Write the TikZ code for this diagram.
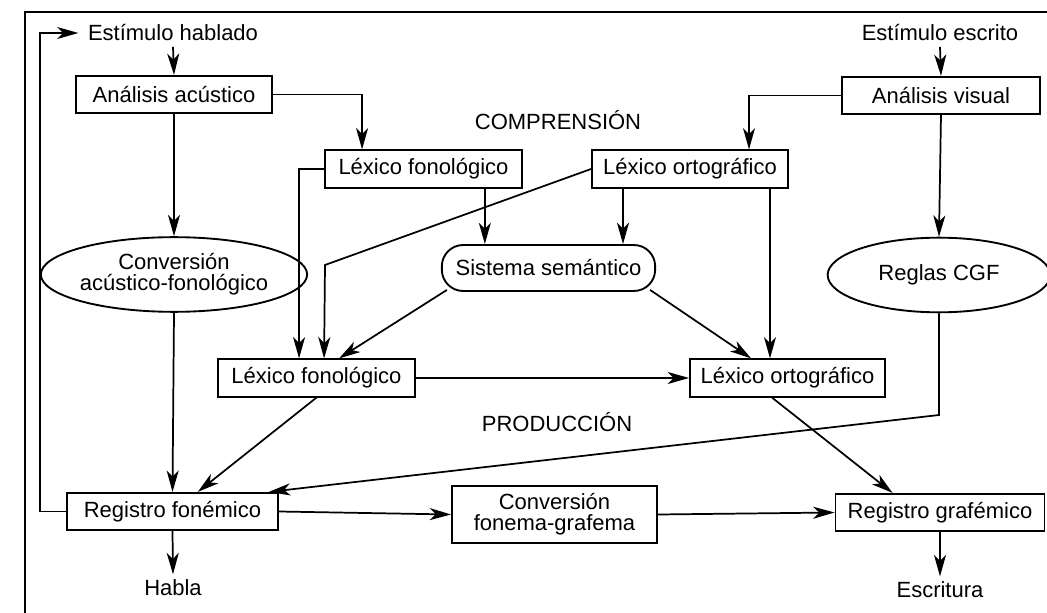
\documentclass[tikz,border=0pt]{standalone}
\usepackage{fontspec}
\setmainfont{Liberation Sans}
\usetikzlibrary{arrows.meta,calc,shapes.geometric}
\tikzset{
  lbl/.style={font=\fontsize{16.5}{19}\selectfont, inner sep=4pt},
  box/.style={lbl, draw, line width=1.4pt, minimum height=28pt, inner xsep=0pt, align=center},
  ell/.style={lbl, draw, ellipse, line width=1.4pt, minimum width=167pt, minimum height=56pt, inner sep=0pt, align=center},
  semb/.style={lbl, draw, rounded corners=16pt, line width=1.4pt, minimum width=160pt, minimum height=34.5pt},
  arr/.style={line width=1.3pt, -{Stealth[length=16pt,width=9pt,inset=4.5pt]}},
}
\begin{document}
\begin{tikzpicture}[x=0.75pt,y=-0.75pt]
\useasboundingbox (0,0) rectangle (1047,613);
% frame
\draw[line width=1.8pt] (25,613) -- (25,12) -- (1047,12);

% nodes
\node[lbl] (eh) at (173,33) {Estímulo hablado};
\node[lbl] (ee) at (940,33) {Estímulo escrito};
\node[box, minimum width=147pt] (aa) at (174,94.5) {Análisis acústico};
\node[box, minimum width=148.5pt] (av) at (941,95.5) {Análisis visual};
\node[lbl] (comp) at (558,120) {COMPRENSIÓN};
\node[box, minimum width=147.75pt] (lf1) at (423.5,169) {Léxico fonológico};
\node[box, minimum width=147pt] (lo1) at (690,169) {Léxico ortográfico};
\node[ell] (caf) at (174,274.5) {Conversión\\[-3pt]acústico-fonológico};
\node[ell] (cgf) at (939,275) {Reglas CGF};
\node[semb] (ss) at (548.5,268) {Sistema semántico};
\node[box, minimum width=147.75pt] (lf2) at (316.5,378) {Léxico fonológico};
\node[box, minimum width=146.25pt] (lo2) at (787.5,378) {Léxico ortográfico};
\node[lbl] (prod) at (557,422) {PRODUCCIÓN};
\node[box, minimum width=158.25pt] (rf) at (172.5,511.5) {Registro fonémico};
\node[box, minimum width=153.75pt, minimum height=43pt] (cfg) at (554.5,514.5) {Conversión\\[-3pt]fonema-grafema};
\node[box, minimum width=156.75pt] (rg) at (940,512.5) {Registro grafémico};
\node[lbl] (habla) at (173,588) {Habla};
\node[lbl] (escr) at (940,590) {Escritura};

\coordinate (lp) at (40,33);
\coordinate (bend) at (325,265);
\coordinate (cgfb) at (939,415);

% connectors
\draw[arr] (rf.west) -| (lp) -- ([xshift=-3pt]eh.west);
\draw[arr] (eh.south) -- (aa.north);
\draw[arr] (aa.east) -| ([xshift=28.5pt]lf1.north west);
\draw[arr] (aa.south) -- (caf.north);
\draw[arr] (caf.south) -- (rf.north);
\draw[arr] (rf.south) -- (habla.north);
\draw[arr] (ee.south) -- (av.north);
\draw[arr] (av.west) -| ([xshift=44.25pt]lo1.north);
\draw[arr] (av.south) -- (cgf.north);
\draw[arr] (cgf.south) -- (cgfb) -- ([xshift=-7.5pt]rf.north east);
\draw[arr] (lf1.west) -| ([xshift=61.5pt]lf2.north west);
\draw[arr] (lo1.west) -- (bend) -- ([xshift=80.25pt]lf2.north west);
\draw[arr] ([xshift=46pt]lf1.south) -- ([xshift=46pt]lf1.south |- ss.north);
\draw[arr] ([xshift=-50.25pt]lo1.south) -- ([xshift=-50.25pt]lo1.south |- ss.north);
\draw[arr] ([xshift=60pt]lo1.south) -- ([xshift=60pt]lo1.south |- lo2.north);
\draw[arr] ($(ss.south west)+(6,-2)$) -- ([xshift=91.5pt]lf2.north west);
\draw[arr] ($(ss.south east)+(-6,-2)$) -- ([xshift=46.5pt]lo2.north west);
\draw[arr] (lf2.east) -- (lo2.west);
\draw[arr] (lf2.south) -- ([xshift=19pt]rf.north);
\draw[arr] ([xshift=-11.6pt]lo2.south) -- ([xshift=-35.6pt]rg.north);
\draw[arr] (rf.east) -- (cfg.west);
\draw[arr] (cfg.east) -- (rg.west);
\draw[arr] (rg.south) -- (escr.north);
\end{tikzpicture}
\end{document}
